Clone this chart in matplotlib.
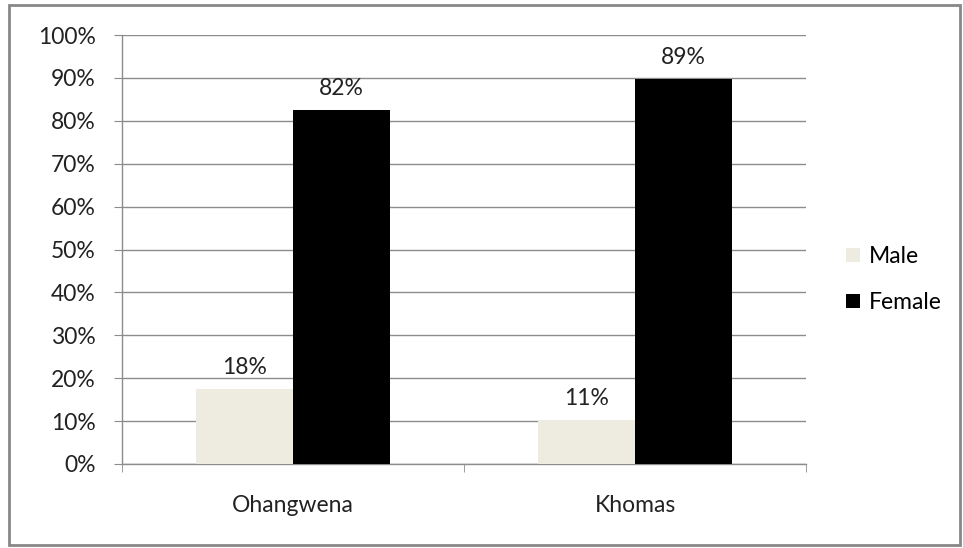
import matplotlib
matplotlib.use("Agg")
import matplotlib.pyplot as plt
from matplotlib.patches import Rectangle
import numpy as np

# data
regions = ["Ohangwena", "Khomas"]
male = [17.5, 10.3]
female = [82.5, 89.7]
male_labels = ["18%", "11%"]
female_labels = ["82%", "89%"]
yticks = list(range(0, 101, 10))

plt.rcParams['font.family'] = ['Lato', 'DejaVu Sans']
plt.rcParams['font.size'] = 16.5

fig = plt.figure(figsize=(9.63, 5.48), dpi=100)
ax = fig.add_axes([0.1267, 0.1533, 0.7103, 0.7827])

x = np.arange(len(regions))
w = 0.284
b1 = ax.bar(x - w / 2, male, w, color="#EEECE1", label="Male", zorder=3)
b2 = ax.bar(x + w / 2, female, w, color="black", label="Female", zorder=3)

for bars, labs in [(b1, male_labels), (b2, female_labels)]:
    for r, t in zip(bars, labs):
        ax.annotate(t, (r.get_x() + r.get_width() / 2, r.get_height()),
                    xytext=(0, 8), textcoords="offset points",
                    ha="center", va="bottom", color="#222222")

ax.set_xlim(-0.5, 1.5)
ax.set_ylim(0, 100)
ax.set_yticks(yticks)
ax.set_yticklabels([f"{v}%" for v in yticks])
ax.yaxis.grid(True, color="#8c8c8c", linewidth=1, zorder=0)
ax.set_xticks(x)
ax.set_xticklabels(regions)
ax.set_xticks([-0.5, 0.5, 1.5], minor=True)
ax.tick_params(axis="x", which="major", length=0, pad=22, colors="#222222")
ax.tick_params(axis="x", which="minor", length=6, direction="out", color="#8c8c8c")
ax.tick_params(axis="y", length=6, direction="out", color="#8c8c8c", pad=13, colors="#222222")
ax.tick_params(axis="y", color="#8c8c8c")
for s in ["top", "right"]:
    ax.spines[s].set_visible(False)
for s in ["left", "bottom"]:
    ax.spines[s].set_color("#8c8c8c")
    ax.spines[s].set_linewidth(1)

fig.legend(loc="center left", bbox_to_anchor=(0.869, 0.49), frameon=False,
           handlelength=0.6, handleheight=0.6, handletextpad=0.4,
           labelspacing=1.1, borderaxespad=0)

# outer frame of the chart
fig.patches.append(Rectangle((0.009, 0.005), 0.988, 0.985, transform=fig.transFigure,
                             fill=False, edgecolor="#888888", linewidth=2))

plt.savefig("out.png", dpi=100)
